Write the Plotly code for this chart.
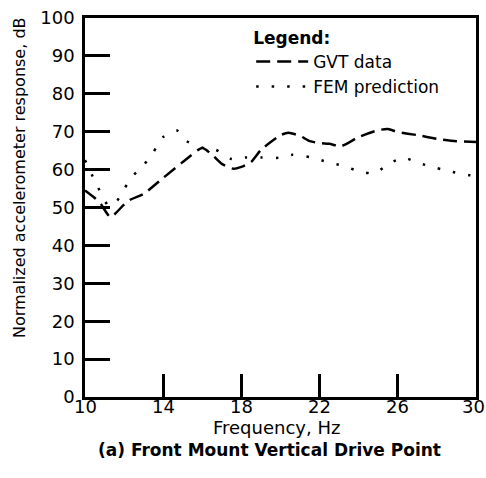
import plotly.graph_objects as go

# GVT data (dashed)
freq_gvt = [10, 10.5, 10.8, 11.3, 12, 12.3, 13, 14, 15, 16, 16.5, 17, 17.6, 18, 18.5, 19, 19.5, 20, 20.4,
            21, 21.5, 22, 22.5, 23.1, 24, 25, 25.5, 26, 27, 28, 29, 30]
gvt_db = [54.5, 52.5, 51, 47.5, 50.8, 52, 53.6, 57.8, 62, 65.7, 63.9, 61.5, 60.2, 60.7, 62, 65.2, 67.3, 69.1, 69.7,
          68.9, 67.5, 67, 66.8, 66.2, 68.6, 70.4, 70.7, 69.9, 69.1, 68.1, 67.5, 67.3]

# FEM prediction (dotted)
freq_fem = [10, 10.6, 11.2, 11.6, 12, 12.5, 13, 13.5, 14, 14.7, 15.2, 16, 16.7, 17.5, 18.2, 19, 19.9, 20.6,
            21.5, 22.4, 23.2, 24, 24.8, 25.6, 26.3, 27.1, 28, 28.8, 29.6, 30]
fem_db = [62.5, 56, 50.5, 51.5, 54.9, 58.6, 61.2, 64.6, 68.6, 70.3, 67.5, 65.8, 65.2, 62.8, 63.2, 63.2, 63.1, 63.9,
          63.3, 62, 61, 59.6, 59, 61.7, 63.1, 61.7, 60.4, 59.4, 58.6, 58.3]

x_ticks = [10, 14, 18, 22, 26, 30]
x_tick_labels = ["10", "14", "18", "22", "26", "30"]
y_ticks = [0, 10, 20, 30, 40, 50, 60, 70, 80, 90, 100]

FONT = "DejaVu Sans"

fig = go.Figure()
fig.add_trace(go.Scatter(x=freq_gvt, y=gvt_db, mode="lines", name="GVT data",
                         line=dict(color="black", width=2.5, dash="14px,7px", shape="spline", smoothing=0.6)))
fig.add_trace(go.Scatter(x=freq_fem, y=fem_db, mode="lines", name="FEM prediction",
                         line=dict(color="black", width=2.5, dash="2.5px,13px", shape="spline", smoothing=0.6)))

axis_common = dict(showline=True, linecolor="black", linewidth=2.5, mirror=True,
                   showgrid=False, zeroline=False, ticks="inside", tickcolor="black",
                   tickwidth=2.5, automargin=False,
                   tickfont=dict(family=FONT, size=18, color="black"))

fig.update_xaxes(range=[10, 30], tickvals=x_ticks, ticklen=23, showticklabels=False, **axis_common)
fig.update_yaxes(range=[0, 100], tickvals=y_ticks, ticklen=25, ticklabelstandoff=4, **axis_common)

for xv, lab in zip(x_ticks, x_tick_labels):
    fig.add_annotation(text=lab, x=xv, xref="x", y=-0.024, yref="paper", showarrow=False,
                       xanchor="center", yanchor="middle", xshift=(-3 if xv == x_ticks[-1] else 0),
                       font=dict(family=FONT, size=18, color="black"))

fig.add_annotation(text="Frequency, Hz", xref="paper", yref="paper",
                   x=0.49, y=-0.081, showarrow=False, xanchor="center", yanchor="middle",
                   font=dict(family=FONT, size=18, color="black"))
fig.add_annotation(text="Normalized accelerometer response, dB", xref="paper", yref="paper",
                   x=-0.166, y=0.578, textangle=-90, showarrow=False, xanchor="center", yanchor="middle",
                   font=dict(family=FONT, size=16, color="black"))
fig.add_annotation(text="<b>(a) Front Mount Vertical Drive Point</b>", xref="paper", yref="paper",
                   x=0.473, y=-0.14, showarrow=False, xanchor="center", yanchor="middle",
                   font=dict(family=FONT, size=17, color="black"))

fig.update_layout(
    width=486, height=478,
    margin=dict(l=85, r=10, t=18, b=81),
    paper_bgcolor="white", plot_bgcolor="white",
    showlegend=True,
    legend=dict(x=0.425, y=0.99, xanchor="left", yanchor="top", bgcolor="rgba(0,0,0,0)",
                title=dict(text="<b>Legend:</b>", font=dict(family=FONT, size=17, color="black")),
                font=dict(family=FONT, size=17, color="black"), itemwidth=52, tracegroupgap=0),
)

fig.write_html("out.html")
